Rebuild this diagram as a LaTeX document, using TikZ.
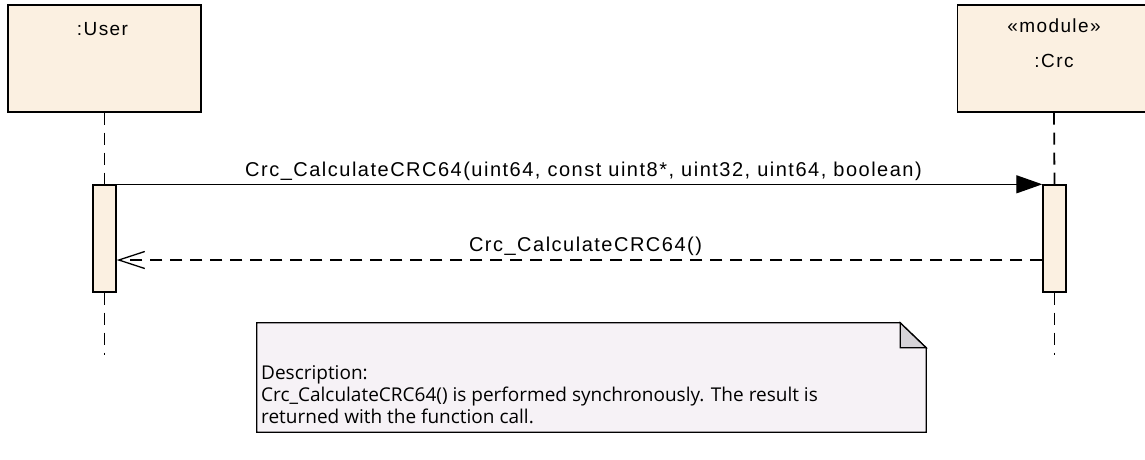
\documentclass[tikz,border=0pt]{standalone}
\usepackage{fontspec}
\setmainfont{Liberation Sans}
\newfontfamily\lblfont[LetterSpace=7.5]{Liberation Sans}
\newfontfamily\notefont{Open Sans}
\usetikzlibrary{arrows.meta,positioning}

\definecolor{objfill}{HTML}{FBF0E1}
\definecolor{notebg}{HTML}{F6F2F6}
\definecolor{foldgray}{HTML}{D6D3D8}

\begin{document}
\begin{tikzpicture}[x=1pt, y=-1pt,
  objbox/.style={draw, line width=1.4pt, fill=objfill, minimum width=193pt, minimum height=107pt, inner sep=0pt},
  objlbl/.style={inner sep=0pt, anchor=base, font=\lblfont\fontsize{19}{22}\selectfont},
  actbar/.style={draw, line width=1.4pt, fill=objfill, minimum width=23pt, minimum height=107pt, inner sep=0pt},
  lifeline/.style={line width=1.8pt, dash pattern=on 12pt off 8pt},
  callmsg/.style={line width=1.3pt, -{Triangle[length=26pt,width=18pt]}},
  retmsg/.style={line width=1.3pt, dash pattern=on 12pt off 8pt, -{Straight Barb[length=26pt,width=17pt,line width=1.3pt]}},
  msglbl/.style={inner sep=0pt, anchor=base, font=\lblfont\fontsize{20}{24}\selectfont}
]

\useasboundingbox (0,0) rectangle (1145,459);

% lifeline heads
\node[objbox] (user) at (104.5,58.5) {};
\node[objlbl] (userlbl) at ([yshift=-31pt,xshift=-2pt]user.north) {:User};

\node[objbox] (crc) at (1054,58.5) {};
\node[objlbl] (crcstereo) at ([yshift=-28pt]crc.north) {«module»};
\node[objlbl] (crclbl) at ([yshift=-63pt]crc.north) {:Crc};

% activations
\node[actbar] (userbar) at (104.5,238.5) {};
\node[actbar] (crcbar) at (1054.5,238.5) {};

\coordinate (userend) at (104.5,355);
\coordinate (crcend) at (1054.5,355);

\draw[lifeline] (user.south) -- (userbar.north);
\draw[lifeline] (userbar.south) -- (userend);
\draw[lifeline] (crc.south) -- (crcbar.north);
\draw[lifeline] (crcbar.south) -- (crcend);

% messages
\draw[callmsg] (userbar.north east) -- node[msglbl, yshift=8pt, xshift=4pt] {Crc\_CalculateCRC64(uint64, const uint8*, uint32, uint64, boolean)} (crcbar.north west);

\coordinate (retstart) at (crcbar.west |- 0,260);
\coordinate (retend) at (userbar.east |- 0,260);
\draw[retmsg] (retstart) -- node[msglbl, yshift=9pt, xshift=6pt] {Crc\_CalculateCRC64()} (retend);

% note
\node[minimum width=669pt, minimum height=109pt, inner sep=0pt] (note) at (591.5,377.5) {};
\draw[line width=1.3pt, fill=notebg] (note.north west) -- ([xshift=-26pt]note.north east) -- ([yshift=-25pt]note.north east) -- (note.south east) -- (note.south west) -- cycle;
\draw[line width=1.3pt, fill=foldgray] ([xshift=-26pt]note.north east) -- ([xshift=-26pt,yshift=-25pt]note.north east) -- ([yshift=-25pt]note.north east) -- cycle;
\node[anchor=north west, inner sep=0pt, align=left, font=\notefont\fontsize{19}{22}\selectfont] (notetxt) at (261,365)
  {Description:\\Crc\_CalculateCRC64() is performed synchronously. The result is\\returned with the function call.};

\end{tikzpicture}
\end{document}
